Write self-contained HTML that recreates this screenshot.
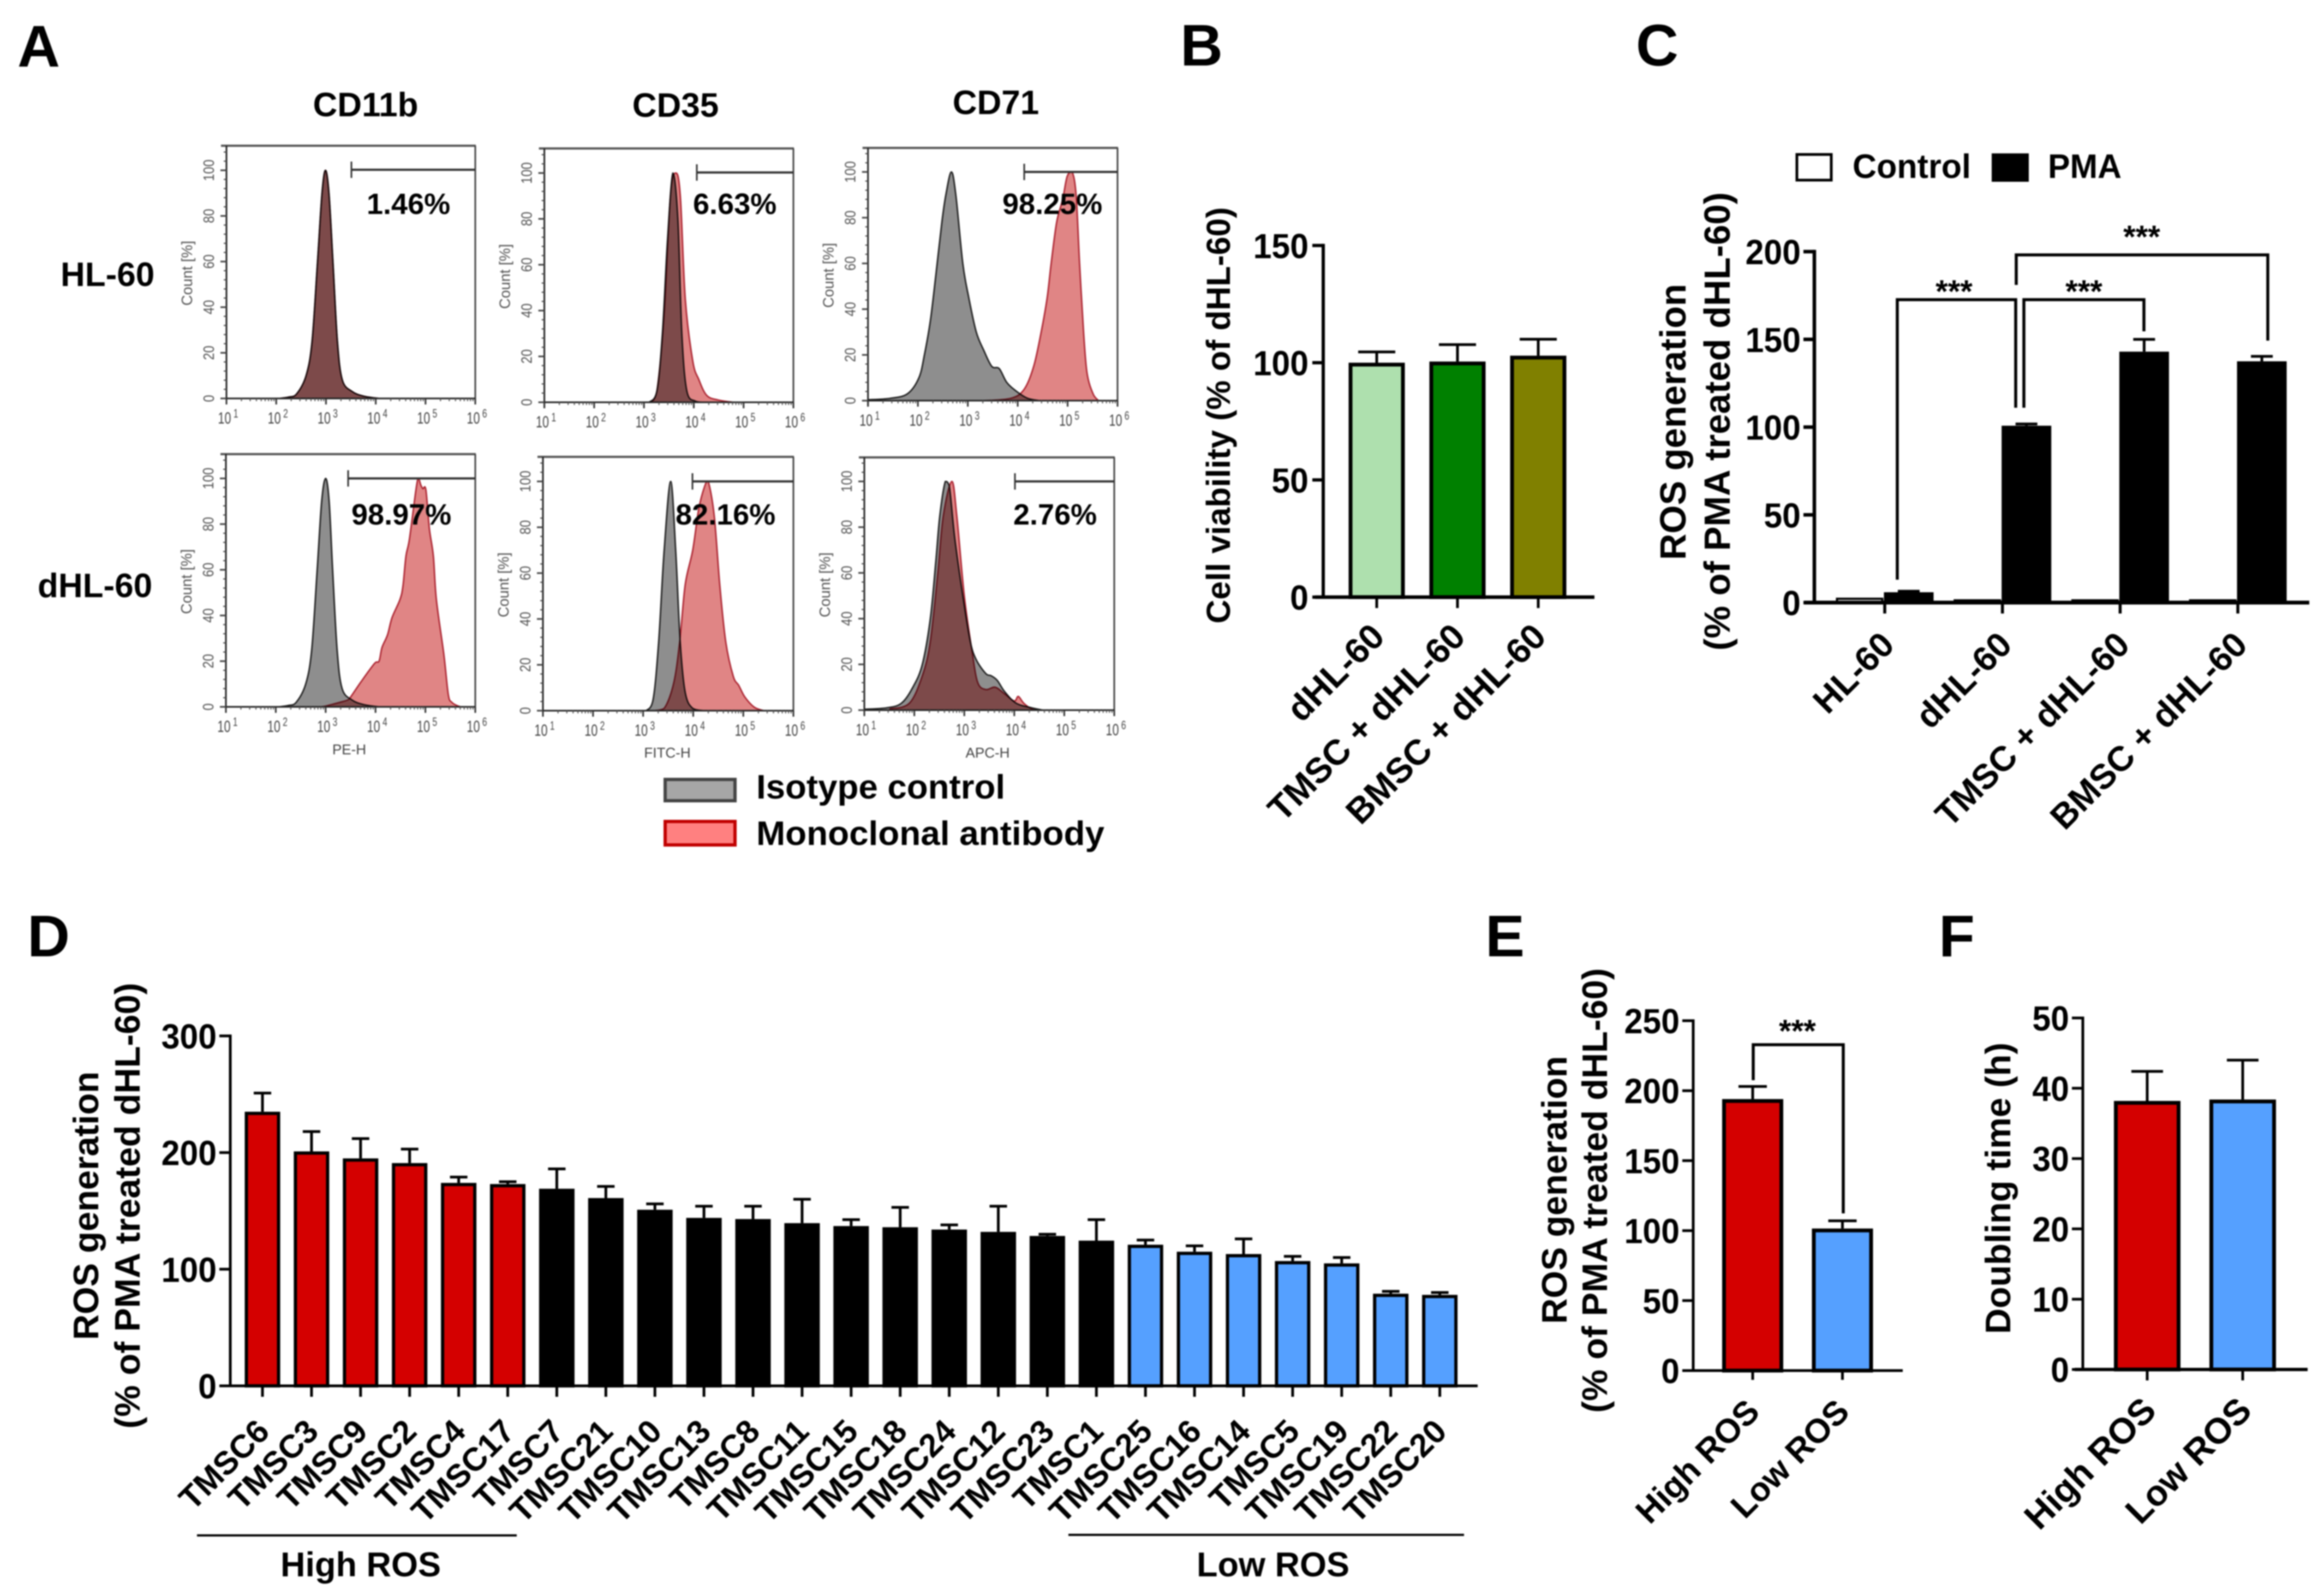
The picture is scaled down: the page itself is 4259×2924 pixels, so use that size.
<!DOCTYPE html>
<html lang="en">
<head>
<meta charset="utf-8">
<title>HL-60 differentiation, viability and ROS generation figure</title>
<style>
html,body{margin:0;padding:0;background:#fff;}
svg{display:block;filter:blur(1.2px);}
text{font-family:"Liberation Sans",sans-serif;fill:#000;}
.b{font-weight:bold;}
.letter{font-weight:bold;font-size:108px;}
.title{font-weight:bold;font-size:62px;}
.pct{font-weight:bold;font-size:54px;}
.leg{font-weight:bold;font-size:62px;}
.yt{font-weight:bold;}
.star{font-weight:bold;font-size:58px;text-anchor:middle;}
.mid{text-anchor:middle;}
</style>
</head>
<body>
<svg xmlns="http://www.w3.org/2000/svg" width="4259" height="2924" viewBox="0 0 4259 2924">
<rect x="0" y="0" width="4259" height="2924" fill="#fff"/>

<g>
<text class="letter" x="32" y="122">A</text>
<text class="letter" x="2163" y="120">B</text>
<text class="letter" x="2998" y="120">C</text>
<text class="letter" x="50" y="1752">D</text>
<text class="letter" x="2722" y="1752">E</text>
<text class="letter" x="3553" y="1752">F</text>
</g>

<g id="panel-a">
<text class="title mid" x="670" y="213">CD11b</text>
<text class="title mid" x="1238" y="214">CD35</text>
<text class="title mid" x="1825" y="209">CD71</text>
<text class="title" x="111" y="524">HL-60</text>
<text class="title" x="69" y="1094">dHL-60</text>
<text x="640" y="1382" class="mid" font-size="26" style="fill:#444">PE-H</text>
<text x="1223" y="1388" class="mid" font-size="26" style="fill:#444">FITC-H</text>
<text x="1810" y="1388" class="mid" font-size="26" style="fill:#444">APC-H</text>
<rect x="1219" y="1428" width="128" height="39" fill="#a6a6a6" stroke="#444" stroke-width="6"/>
<text class="leg" x="1386" y="1463" textLength="456" lengthAdjust="spacingAndGlyphs">Isotype control</text>
<rect x="1219" y="1505" width="128" height="43" fill="#ff8080" stroke="#c00000" stroke-width="6"/>
<text class="leg" x="1386" y="1548" textLength="638" lengthAdjust="spacingAndGlyphs">Monoclonal antibody</text>
</g>

<g id="panel-b">
<text class="mid" font-size="61" font-weight="bold" transform="translate(2254,761) rotate(-90)" textLength="763" lengthAdjust="spacingAndGlyphs">Cell viability (% of dHL-60)</text>
</g>

<g id="panel-c">
<text class="mid" font-size="67" font-weight="bold" transform="translate(3089,773) rotate(-90)" textLength="506" lengthAdjust="spacingAndGlyphs">ROS generation</text>
<text class="mid" font-size="67" font-weight="bold" transform="translate(3170,772) rotate(-90)" textLength="840" lengthAdjust="spacingAndGlyphs">(% of PMA treated dHL-60)</text>
<rect x="3293" y="283" width="63" height="47" fill="#fff" stroke="#000" stroke-width="5"/>
<text class="leg" x="3395" y="326" textLength="217" lengthAdjust="spacingAndGlyphs">Control</text>
<rect x="3650" y="281" width="68" height="52" fill="#000"/>
<text class="leg" x="3753" y="326" textLength="135" lengthAdjust="spacingAndGlyphs">PMA</text>
<text class="star" x="3581" y="554">***</text>
<text class="star" x="3819" y="554">***</text>
<text class="star" x="3925" y="454">***</text>
</g>

<g id="panel-d">
<text class="mid" font-size="65" font-weight="bold" transform="translate(180,2209) rotate(-90)" textLength="492" lengthAdjust="spacingAndGlyphs">ROS generation</text>
<text class="mid" font-size="65" font-weight="bold" transform="translate(256,2209) rotate(-90)" textLength="817" lengthAdjust="spacingAndGlyphs">(% of PMA treated dHL-60)</text>
<line x1="361" y1="2813" x2="947" y2="2813" stroke="#000" stroke-width="4"/>
<line x1="1958" y1="2812" x2="2683" y2="2812" stroke="#000" stroke-width="4"/>
<text class="mid b" font-size="63" x="661" y="2888">High ROS</text>
<text class="mid b" font-size="63" x="2333" y="2888">Low ROS</text>
</g>

<g id="panel-e">
<text class="mid" font-size="65" font-weight="bold" transform="translate(2871,2180) rotate(-90)" textLength="491" lengthAdjust="spacingAndGlyphs">ROS generation</text>
<text class="mid" font-size="65" font-weight="bold" transform="translate(2945,2181) rotate(-90)" textLength="815" lengthAdjust="spacingAndGlyphs">(% of PMA treated dHL-60)</text>
<text class="star" x="3294" y="1909">***</text>
</g>

<g id="panel-f">
<text class="mid" font-size="65" font-weight="bold" transform="translate(3684,2177) rotate(-90)" textLength="534" lengthAdjust="spacingAndGlyphs">Doubling time (h)</text>
</g>
</svg>

<script>
/* ---------- Panel A: histogram readings (log10 intensity, % of max count) ---------- */
const cd11bHlIsoLog = [2.05,2.25,2.41,2.6,2.72,2.83,2.92,2.99,3.06,3.14,3.23,3.33,3.53,3.76,4.07];
const cd11bHlIsoPct = [0,0.6,2,10,25,60,90,100,90,60,25,8,3,1,0];
const cd11bHlMabLog = [2.05,2.25,2.41,2.6,2.72,2.83,2.92,2.99,3.06,3.14,3.23,3.33,3.53,3.76,4.07];
const cd11bHlMabPct = [0,0.6,2,10,25,60,90,100,90,60,25,8,3,1,0];
const cd11bDhlIsoLog = [2.05,2.25,2.41,2.6,2.72,2.83,2.92,3.0,3.07,3.14,3.23,3.33,3.53,3.76,4.07];
const cd11bDhlIsoPct = [0,0.6,2,10,25,60,90,100,90,60,25,8,3,1,0];
const cd11bDhlMabLog = [2.9,3.03,3.29,3.44,3.5,3.71,3.98,4.07,4.13,4.24,4.33,4.49,4.55,4.61,4.68,4.81,4.86,4.91,4.95,5.01,5.08,5.16,5.22,5.37,5.46,5.53,5.64,5.72];
const cd11bDhlMabPct = [0,0.5,2,3,4.3,11,19,20,26,31.5,39,47,53,66,73.5,95,100,97,95.5,95,78,66,47,23,5.3,2,0.5,0];
const cd35HlIsoLog = [3.1,3.26,3.37,3.47,3.58,3.68,3.76,3.86,4.03,4.2];
const cd35HlIsoPct = [0,5,30,70,100,80,30,5,0.5,0];
const cd35HlMabLog = [3.14,3.26,3.41,3.53,3.64,3.73,3.83,3.98,4.1,4.26,4.49,4.8];
const cd35HlMabPct = [0,5,40,90,100,90,45,18,10,3,1,0];
const cd35DhlIsoLog = [3.06,3.2,3.31,3.42,3.55,3.65,3.74,3.84,3.99,4.23];
const cd35DhlIsoPct = [0,5,30,70,100,70,30,8,1,0];
const cd35DhlMabLog = [3.2,3.42,3.61,3.73,3.84,3.99,4.11,4.23,4.3,4.42,4.53,4.65,4.8,4.91,5.03,5.22,5.41];
const cd35DhlMabPct = [0,1,12,30,55,70,88,98,100,85,55,30,15,11,6,1.5,0];
const cd71HlIsoLog = [1,1.44,1.79,2.02,2.13,2.25,2.36,2.48,2.56,2.67,2.76,2.9,3.02,3.17,3.32,3.48,3.63,3.78,3.98,4.2,4.44];
const cd71HlIsoPct = [0.4,1,3,10,20,35,55,78,90,100,90,60,45,30,22,15,14,8,4,1,0];
const cd71HlMabLog = [3.3,3.86,4.13,4.32,4.47,4.59,4.67,4.78,4.9,4.99,5.09,5.17,5.24,5.32,5.39,5.51,5.62];
const cd71HlMabPct = [0,1,5,15,30,45,60,78,88,98,100,90,60,30,12,3,0];
const cd71DhlIsoLog = [1,1.44,1.74,1.97,2.16,2.32,2.43,2.51,2.62,2.7,2.81,2.97,3.12,3.24,3.43,3.54,3.66,3.81,4.04,4.35,4.58];
const cd71DhlIsoPct = [0.4,1,3,10,20,40,65,85,100,98,75,50,30,22,16,15,13,8,3,1,0];
const cd71DhlMabLog = [1.51,1.9,2.16,2.32,2.47,2.58,2.75,2.85,3.0,3.16,3.27,3.43,3.62,3.81,4.0,4.08,4.19,4.35,4.46];
const cd71DhlMabPct = [0.5,3,15,30,60,85,100,85,50,25,12,9,10,7,4,6,3,0.5,0];
const flowYTicks = [0,20,40,60,80,100];
const flowXExponents = [1,2,3,4,5,6];

/* ---------- Panel B ---------- */
const viabilityCategories = ['dHL-60','TMSC + dHL-60','BMSC + dHL-60'];
const viabilityMeans = [100,100.5,103];
const viabilityErrorTops = [104.6,107.7,110];
const viabilityColors = ['#aee0ae','#008000','#808000'];
const viabilityTicks = [0,50,100,150];

/* ---------- Panel C ---------- */
const rosCellCategories = ['HL-60','dHL-60','TMSC + dHL-60','BMSC + dHL-60'];
const rosControlMeans = [2.8,1.9,1.9,1.9];
const rosPmaMeans = [5.9,100.8,143,137.5];
const rosPmaErrorTops = [6.5,101.8,150,140.3];
const rosCellTicks = [0,50,100,150,200];

/* ---------- Panel D ---------- */
const tmscCategories = ['TMSC6','TMSC3','TMSC9','TMSC2','TMSC4','TMSC17','TMSC7','TMSC21','TMSC10','TMSC13','TMSC8','TMSC11','TMSC15','TMSC18','TMSC24','TMSC12','TMSC23','TMSC1','TMSC25','TMSC16','TMSC14','TMSC5','TMSC19','TMSC22','TMSC20'];
const tmscMeans = [235,201,195,191,174,173,169,161,151,144,143,139.5,137,136,134,132,128.5,124.5,121,115,113,107,105,79,78];
const tmscErrorTops = [251,218,212,203,179,175,186,171,156,154,154,160,142.5,153,138,154,130,142.5,125,120,126,111,110,81,80];
const tmscGroups = ['high','high','high','high','high','high','mid','mid','mid','mid','mid','mid','mid','mid','mid','mid','mid','mid','low','low','low','low','low','low','low'];
const tmscTicks = [0,100,200,300];

/* ---------- Panel E ---------- */
const groupCategories = ['High ROS','Low ROS'];
const groupRosMeans = [194,101.5];
const groupRosErrorTops = [203,107];
const groupRosTicks = [0,50,100,150,200,250];

/* ---------- Panel F ---------- */
const doublingMeans = [38.2,38.4];
const doublingErrorTops = [42.4,44];
const doublingTicks = [0,10,20,30,40,50];

const NS = 'http://www.w3.org/2000/svg';
const RED = '#d40000', BLUE = '#55a0ff';

function el(parent, tag, attrs, name) {
  const e = document.createElementNS(NS, tag);
  for (const k in attrs) e.setAttribute(k, attrs[k]);
  
  
  parent.appendChild(e);
  return e;
}
function line(p, x1, y1, x2, y2, stroke, sw, name) {
  return el(p, 'line', {x1, y1, x2, y2, stroke, 'stroke-width': sw}, name);
}
function tickText(p, txt, x, y, name) {
  const t = el(p, 'text', {transform: `translate(${x},${y}) scale(.95,1)`, 'text-anchor': 'end', 'font-size': 64, 'font-weight': 'bold'}, name);
  t.textContent = txt;
  return t;
}
function drawYAxis(p, x, yScale, ticks, sw, labelRight) {
  line(p, x, yScale(ticks[ticks.length - 1]) - sw / 2, x, yScale(0) + sw / 2, '#000', sw, 'y-axis-line');
  ticks.forEach(v => {
    line(p, x - 20, yScale(v), x, yScale(v), '#000', sw, 'y-axis-tick-' + v);
    tickText(p, String(v), labelRight, yScale(v) + 23, 'y-axis-label-' + v);
  });
}
function drawXAxis(p, x1, x2, y, sw) {
  line(p, x1, y, x2, y, '#000', sw, 'x-axis-line');
}
function drawBar(p, xc, w, yv, y0, fill, sw, name) {
  el(p, 'rect', {x: xc - w / 2 + sw / 2, y: yv + sw / 2, width: w - sw, height: Math.max(0, y0 - yv - sw / 2), fill, stroke: '#000', 'stroke-width': sw}, name);
}
function drawError(p, xc, yv, yTop, half, sw, name) {
  line(p, xc, yv, xc, yTop, '#000', sw, name + '-stem');
  line(p, xc - half, yTop, xc + half, yTop, '#000', sw, name + '-cap');
}
function drawXLabel(p, txt, x, y, size, name) {
  const t = el(p, 'text', {transform: `translate(${x},${y}) rotate(-45)`, 'text-anchor': 'end', 'font-size': size, 'font-weight': 'bold'}, name);
  t.textContent = txt;
}
function bracket(p, pts, name) {
  el(p, 'polyline', {points: pts.map(q => q.join(',')).join(' '), fill: 'none', stroke: '#000', 'stroke-width': 5.5}, name);
}

/* ---------- Panel A drawing ---------- */
const flowPanels = [
  {key:'cd11b-hl60', l:415, r:871, top:267, y100:312, y0:730, gx:644, gy:311, iso:[cd11bHlIsoLog,cd11bHlIsoPct], mab:[cd11bHlMabLog,cd11bHlMabPct], pct:'1.46%', px:672, py:392},
  {key:'cd11b-dhl60', l:414, r:871, top:832, y100:876.5, y0:1295, gx:638, gy:876.5, iso:[cd11bDhlIsoLog,cd11bDhlIsoPct], mab:[cd11bDhlMabLog,cd11bDhlMabPct], pct:'98.97%', px:644, py:961},
  {key:'cd35-hl60', l:997.6, r:1454, top:272, y100:317, y0:737, gx:1277, gy:316, iso:[cd35HlIsoLog,cd35HlIsoPct], mab:[cd35HlMabLog,cd35HlMabPct], pct:'6.63%', px:1270, py:392},
  {key:'cd35-dhl60', l:995, r:1454, top:837, y100:882, y0:1302, gx:1269, gy:882, iso:[cd35DhlIsoLog,cd35DhlIsoPct], mab:[cd35DhlMabLog,cd35DhlMabPct], pct:'82.16%', px:1238, py:961},
  {key:'cd71-hl60', l:1590.7, r:2048, top:271, y100:315, y0:734, gx:1877, gy:315, iso:[cd71HlIsoLog,cd71HlIsoPct], mab:[cd71HlMabLog,cd71HlMabPct], pct:'98.25%', px:1837, py:392},
  {key:'cd71-dhl60', l:1584, r:2042, top:838, y100:882, y0:1301, gx:1860, gy:882, iso:[cd71DhlIsoLog,cd71DhlIsoPct], mab:[cd71DhlMabLog,cd71DhlMabPct], pct:'2.76%', px:1857, py:961}
];
function smoothPath(pts, yMin, yMax) {
  let d = `M${pts[0][0]},${pts[0][1]}`;
  const c = v => Math.min(yMax, Math.max(yMin, v));
  for (let i = 0; i < pts.length - 1; i++) {
    const a = pts[Math.max(0, i - 1)], b = pts[i], e = pts[i + 1], f = pts[Math.min(pts.length - 1, i + 2)];
    d += `C${b[0] + (e[0] - a[0]) / 6},${c(b[1] + (e[1] - a[1]) / 6)} ${e[0] - (f[0] - b[0]) / 6},${c(e[1] - (f[1] - b[1]) / 6)} ${e[0]},${e[1]}`;
  }
  return d;
}
const panelA = document.getElementById('panel-a');
flowPanels.forEach(f => {
  const g = el(panelA, 'g', {}, 'histogram-' + f.key);
  const xs = lg => f.l + (lg - 1) * (f.r - f.l) / 5;
  const ys = v => f.y0 - v * (f.y0 - f.y100) / 100;
  const curve = (series, fill, stroke, blend, name) => {
    const pts = series[0].map((lg, i) => [xs(lg), ys(series[1][i])]);
    const d = smoothPath(pts, f.y100, f.y0) + `L${pts[pts.length - 1][0]},${f.y0}L${pts[0][0]},${f.y0}Z`;
    const s = el(g, 'path', {d, fill, stroke, 'stroke-width': 2.5, 'stroke-linejoin': 'round'}, name);
    if (blend) s.style.mixBlendMode = 'multiply';
  };
  curve(f.iso, '#8e8e8e', '#151515', false, 'isotype-histogram');
  curve(f.mab, '#e08585', '#a81c2a', true, 'monoclonal-histogram');
  /* frame */
  line(g, f.l - 10, f.top, f.r + 1, f.top, '#555', 4, 'plot-top-border');
  line(g, f.r, f.top, f.r, f.y0 + 10, '#444', 3, 'plot-right-border');
  line(g, f.l, f.top, f.l, f.y0 + 11, '#222', 3, 'y-axis-line');
  line(g, f.l - 10, f.y0, f.r, f.y0, '#222', 3, 'x-axis-line');
  for (let v = 0; v <= 108; v += 4) {
    const major = v % 20 === 0;
    line(g, f.l - (major ? 11 : 5), ys(v), f.l, ys(v), '#444', major ? 3 : 2, 'y-tick');
  }
  flowYTicks.forEach(v => {
    const t = el(g, 'text', {transform: `translate(${f.l - 23},${ys(v)}) rotate(-90) scale(.85,1)`, 'text-anchor': 'middle', 'font-size': 28}, 'y-axis-label-' + v);
    t.style.fill = '#555';
    t.textContent = String(v);
  });
  const ct = el(g, 'text', {transform: `translate(${f.l - 63},${(f.top + f.y0) / 2 + 2}) rotate(-90)`, 'text-anchor': 'middle', 'font-size': 28, textLength: 119, lengthAdjust: 'spacingAndGlyphs'}, 'y-axis-title-count');
  ct.style.fill = '#555';
  ct.textContent = 'Count [%]';
  flowXExponents.forEach(ex => {
    line(g, xs(ex), f.y0, xs(ex), f.y0 + 11, '#333', 3, 'x-tick');
    if (ex < 6) for (let m = 2; m < 10; m++) {
      const mx = xs(ex + Math.log10(m));
      line(g, mx, f.y0, mx, f.y0 + 5, '#555', 2, 'x-minor-tick');
    }
    const t = el(g, 'text', {transform: `translate(${xs(ex) + 3},${f.y0 + 46}) scale(.72,1)`, 'text-anchor': 'middle', 'font-size': 30}, 'x-axis-label-10e' + ex);
    t.style.fill = '#444';
    t.appendChild(document.createTextNode('10'));
    const sup = el(t, 'tspan', {dx: 6, dy: -11, 'font-size': 22}, 'x-axis-label-exponent');
    sup.textContent = String(ex);
  });
  /* gate */
  line(g, f.gx, f.gy, f.r, f.gy, '#333', 4, 'gate-line');
  line(g, f.gx, f.gy - 15, f.gx, f.gy + 15, '#333', 3, 'gate-end-tick');
  const p = el(g, 'text', {x: f.px, y: f.py, 'font-size': 54, 'font-weight': 'bold'}, 'gate-percentage');
  p.textContent = f.pct;
});

/* ---------- Panel B drawing ---------- */
(function () {
  const p = document.getElementById('panel-b');
  const y = v => 1094 - v * 4.295;
  const x = i => 2523 + i * 148;
  viabilityCategories.forEach((c, i) => {
    drawError(p, x(i), y(viabilityMeans[i]), y(viabilityErrorTops[i]), 34, 5, 'error-bar-' + i);
    drawBar(p, x(i), 103, y(viabilityMeans[i]), y(0), viabilityColors[i], 7, 'bar-' + i);
    line(p, x(i), y(0), x(i), y(0) + 20, '#000', 5, 'x-axis-tick-' + i);
    drawXLabel(p, c, x(i) + 18, y(0) + 76, 65, 'x-axis-label-' + i);
  });
  drawYAxis(p, 2425, y, viabilityTicks, 6, 2398);
  drawXAxis(p, 2410, 2922, y(0), 6.5);
})();

/* ---------- Panel C drawing ---------- */
(function () {
  const p = document.getElementById('panel-c');
  const y = v => 1104 - v * 3.215;
  const x = i => 3454 + i * 215.7;
  rosCellCategories.forEach((c, i) => {
    drawBar(p, x(i) - 46, 87, y(rosControlMeans[i]), y(0), '#fff', 4, 'control-bar-' + i);
    drawError(p, x(i) + 44, y(rosPmaMeans[i]), y(rosPmaErrorTops[i]), 20, 5, 'pma-error-bar-' + i);
    drawBar(p, x(i) + 44, 91, y(rosPmaMeans[i]), y(0), '#000', 5, 'pma-bar-' + i);
    line(p, x(i), y(0), x(i), y(0) + 20, '#000', 5.5, 'x-axis-tick-' + i);
    drawXLabel(p, c, x(i) + 21, y(0) + 81, 64, 'x-axis-label-' + i);
  });
  drawYAxis(p, 3325, y, rosCellTicks, 6.5, 3300);
  drawXAxis(p, 3307, 4232, y(0), 7);
  bracket(p, [[3477,1062],[3477,549],[3694,549],[3694,747]], 'bracket-hl60-vs-dhl60');
  bracket(p, [[3709,747],[3709,549],[3929,549],[3929,607]], 'bracket-dhl60-vs-tmsc');
  bracket(p, [[3695,522],[3695,467],[4156,467],[4156,624]], 'bracket-dhl60-vs-bmsc');
})();

/* ---------- Panel D drawing ---------- */
(function () {
  const p = document.getElementById('panel-d');
  const y = v => 2539 - v * 2.137;
  const x = i => 481 + i * 89.9;
  const fills = {high: RED, mid: '#000', low: BLUE};
  tmscCategories.forEach((c, i) => {
    drawError(p, x(i), y(tmscMeans[i]), y(tmscErrorTops[i]), 16, 5, 'error-bar-' + c.toLowerCase());
    drawBar(p, x(i), 65, y(tmscMeans[i]), y(0), fills[tmscGroups[i]], 6, 'bar-' + c.toLowerCase());
    line(p, x(i), y(0), x(i), y(0) + 20, '#000', 5, 'x-axis-tick-' + c.toLowerCase());
    drawXLabel(p, c, x(i) + 16, y(0) + 87, 60, 'x-axis-label-' + c.toLowerCase());
  });
  drawYAxis(p, 422, y, tmscTicks, 5, 397);
  drawXAxis(p, 404, 2708, y(0), 5);
})();

/* ---------- Panel E drawing ---------- */
(function () {
  const p = document.getElementById('panel-e');
  const y = v => 2511 - v * 2.564;
  const x = i => 3212 + i * 164.5;
  const fills = [RED, BLUE];
  groupCategories.forEach((c, i) => {
    drawError(p, x(i), y(groupRosMeans[i]), y(groupRosErrorTops[i]), 26, 5, 'error-bar-' + i);
    drawBar(p, x(i), 112, y(groupRosMeans[i]), y(0), fills[i], 7, 'bar-' + i);
    line(p, x(i), y(0), x(i), y(0) + 17, '#000', 5, 'x-axis-tick-' + i);
    drawXLabel(p, c, x(i) + 16, y(0) + 79, 62, 'x-axis-label-' + i);
  });
  drawYAxis(p, 3103, y, groupRosTicks, 5, 3078);
  drawXAxis(p, 3088, 3487, y(0), 5);
  bracket(p, [[3213,1979],[3213,1914],[3378,1914],[3378,2223]], 'bracket-high-vs-low');
})();

/* ---------- Panel F drawing ---------- */
(function () {
  const p = document.getElementById('panel-f');
  const y = v => 2509 - v * 12.88;
  const x = i => 3935 + i * 175;
  const fills = [RED, BLUE];
  groupCategories.forEach((c, i) => {
    drawError(p, x(i), y(doublingMeans[i]), y(doublingErrorTops[i]), 29, 5, 'error-bar-' + i);
    drawBar(p, x(i), 122, y(doublingMeans[i]), y(0), fills[i], 7, 'bar-' + i);
    line(p, x(i), y(0), x(i), y(0) + 20, '#000', 5, 'x-axis-tick-' + i);
    drawXLabel(p, c, x(i) + 20, y(0) + 79, 66, 'x-axis-label-' + i);
  });
  drawYAxis(p, 3817, y, doublingTicks, 5, 3792);
  drawXAxis(p, 3802, 4229, y(0), 6);
})();
</script>
</body>
</html>
